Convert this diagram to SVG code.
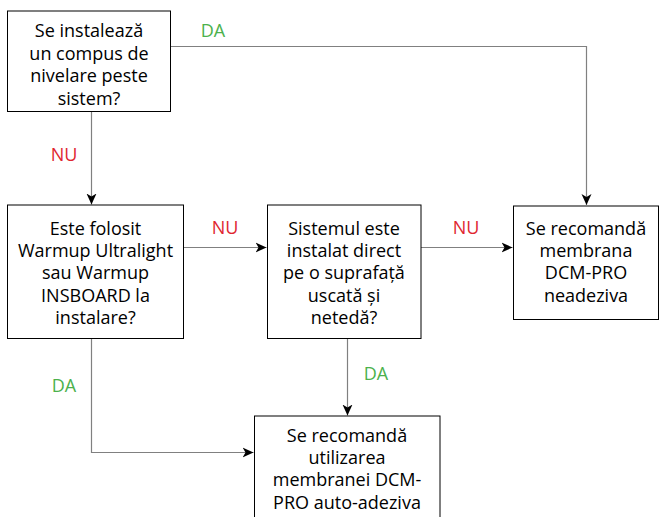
<svg xmlns="http://www.w3.org/2000/svg" width="659" height="517" viewBox="0 0 659 517">
<defs>
<style>
.box{fill:#fff;stroke:#000;stroke-width:1}
.t{font-family:"Open Sans","Noto Sans",sans-serif;font-size:18px;fill:#000;text-anchor:middle}
.edge{fill:none;stroke:#808080;stroke-width:1.2}
.da{font-family:"Open Sans","Noto Sans",sans-serif;font-size:18px;fill:#4cb14c;text-anchor:middle}
.nu{font-family:"Open Sans","Noto Sans",sans-serif;font-size:18px;fill:#e0262f;text-anchor:middle}
</style>
<marker id="arr" markerWidth="12" markerHeight="12" viewBox="0 0 12 12" refX="11" refY="6" orient="auto" markerUnits="userSpaceOnUse">
<path d="M0,1 L11,6 L0,11 L3,6 Z" fill="#000"/>
</marker>
</defs>
<rect width="659" height="517" fill="#fff"/>
<g id="connectors">
<path class="edge" d="M170.5,46.5 H586.5 V205" marker-end="url(#arr)"/>
<path class="edge" d="M91.5,111.5 V204.5" marker-end="url(#arr)"/>
<path class="edge" d="M183,247.5 H266.5" marker-end="url(#arr)"/>
<path class="edge" d="M421,247.5 H512.5" marker-end="url(#arr)"/>
<path class="edge" d="M347.5,338.5 V415.5" marker-end="url(#arr)"/>
<path class="edge" d="M91.5,338.5 V452.5 H253.5" marker-end="url(#arr)"/>
<text class="da" x="213" y="36.5">DA</text>
<text class="nu" x="64" y="160.5">NU</text>
<text class="nu" x="225" y="233.5">NU</text>
<text class="nu" x="466" y="233.5">NU</text>
<text class="da" x="64" y="391.5">DA</text>
<text class="da" x="376" y="379.5">DA</text>
</g>
<g id="n1">
<rect class="box" x="7.5" y="11" width="163" height="100.5"/>
<text class="t" x="89" y="37">Se instalează</text>
<text class="t" x="89" y="59.5">un compus de</text>
<text class="t" x="89" y="82">nivelare peste</text>
<text class="t" x="89" y="104.5">sistem?</text>
</g>
<g id="n2">
<rect class="box" x="7.5" y="205" width="176" height="133.5"/>
<text class="t" x="95.5" y="235">Este folosit</text>
<text class="t" x="95.5" y="257">Warmup Ultralight</text>
<text class="t" x="95.5" y="279">sau Warmup</text>
<text class="t" x="95.5" y="301.5">INSBOARD la</text>
<text class="t" x="95.5" y="323.5">instalare?</text>
</g>
<g id="n3">
<rect class="box" x="267.5" y="205" width="153.5" height="133.5"/>
<text class="t" x="344" y="235">Sistemul este</text>
<text class="t" x="344" y="257">instalat direct</text>
<text class="t" x="344" y="279">pe o suprafață</text>
<text class="t" x="344" y="301.5">uscată și</text>
<text class="t" x="344" y="323.5">netedă?</text>
</g>
<g id="n4">
<rect class="box" x="513.5" y="206" width="145" height="113.5"/>
<text class="t" x="586" y="235">Se recomandă</text>
<text class="t" x="586" y="257">membrana</text>
<text class="t" x="586" y="279">DCM-PRO</text>
<text class="t" x="586" y="301.5">neadeziva</text>
</g>
<g id="n5">
<rect class="box" x="254.5" y="416" width="185.5" height="110"/>
<text class="t" x="347" y="442">Se recomandă</text>
<text class="t" x="347" y="464">utilizarea</text>
<text class="t" x="347" y="486">membranei DCM-</text>
<text class="t" x="347" y="508.5">PRO auto-adeziva</text>
</g>
</svg>
